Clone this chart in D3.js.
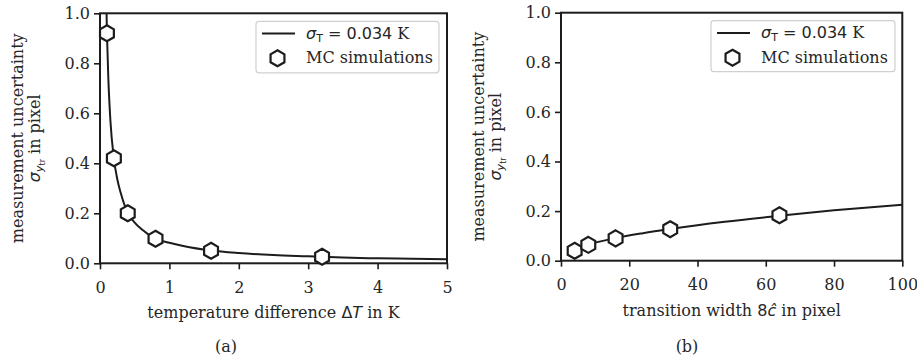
<!DOCTYPE html>
<html>
<head>
<meta charset="utf-8">
<script src="https://cdn.jsdelivr.net/npm/d3@7"></script>
<style>
  html, body { margin: 0; padding: 0; background: #fff; }
  svg { display: block; }
  text { fill: #262626; }
</style>
</head>
<body>
<svg id="chart" width="917" height="361"></svg>
<script>
// ---- data ----
const yTicks = [0.0, 0.2, 0.4, 0.6, 0.8, 1.0];
const yTickLabels = ["0.0", "0.2", "0.4", "0.6", "0.8", "1.0"];

// panel (a)
const aXTicks = [0, 1, 2, 3, 4, 5];
const aXTickLabels = ["0", "1", "2", "3", "4", "5"];
const aCurveX = [0.07, 0.1, 0.12, 0.15, 0.2, 0.25, 0.3, 0.4, 0.5, 0.6, 0.8, 1.0, 1.2, 1.6, 2.0, 2.5, 3.0, 3.2, 3.5, 4.0, 4.5, 5.0];
const aCurveY = [1.35, 0.92, 0.74, 0.57, 0.42, 0.335, 0.28, 0.202, 0.163, 0.136, 0.099, 0.082, 0.069, 0.051, 0.041, 0.033, 0.028, 0.026, 0.023, 0.020, 0.018, 0.016];
const aMcX = [0.1, 0.2, 0.4, 0.8, 1.6, 3.2];
const aMcY = [0.92, 0.42, 0.20, 0.098, 0.05, 0.026];

// panel (b)
const bXTicks = [0, 20, 40, 60, 80, 100];
const bXTickLabels = ["0", "20", "40", "60", "80", "100"];
const bCurveX = [4, 8, 16, 24, 32, 48, 64, 80, 100];
const bCurveY = [0.040, 0.064, 0.091, 0.111, 0.128, 0.157, 0.181, 0.203, 0.226];
const bMcX = [4, 8, 16, 32, 64];
const bMcY = [0.040, 0.064, 0.090, 0.127, 0.183];

const legendLineLabel = "= 0.034";
const legendMcLabel = "MC simulations";

// ---- drawing ----
const svg = d3.select("#chart");
const INK = "#1c1c1c";
const SERIF = "'DejaVu Serif', serif";
const SANS = "'DejaVu Sans', sans-serif";
const FS = 16;

function hexPath(r) {
  const pts = d3.range(6).map(k => {
    const a = (-90 + k * 60) * Math.PI / 180;
    return [r * Math.cos(a), r * Math.sin(a)];
  });
  return "M" + pts.map(p => p[0].toFixed(3) + "," + p[1].toFixed(3)).join("L") + "Z";
}
const HEX = hexPath(8);

function panel(cfg) {
  const g = svg.append("g");
  const x = d3.scaleLinear().domain(cfg.xDomain).range([cfg.left, cfg.right]);
  const y = d3.scaleLinear().domain([0, 1]).range([cfg.bottom, cfg.top]);

  const clipId = "clip" + cfg.id;
  svg.append("defs").append("clipPath").attr("id", clipId)
    .append("rect").attr("x", cfg.left).attr("y", cfg.top)
    .attr("width", cfg.right - cfg.left).attr("height", cfg.bottom - cfg.top);

  // axes
  const xAxis = d3.axisBottom(x).tickValues(cfg.xTicks)
    .tickFormat((d, i) => cfg.xTickLabels[i]).tickSize(6).tickSizeOuter(0).tickPadding(12);
  const yAxis = d3.axisLeft(y).tickValues(yTicks)
    .tickFormat((d, i) => yTickLabels[i]).tickSize(6).tickSizeOuter(0).tickPadding(4);

  const gx = g.append("g").attr("transform", `translate(0,${cfg.bottom})`).call(xAxis);
  const gy = g.append("g").attr("transform", `translate(${cfg.left},0)`).call(yAxis);
  [gx, gy].forEach(a => {
    a.select(".domain").remove();
    a.selectAll(".tick line").attr("stroke", INK).attr("stroke-width", 1.6);
    a.selectAll(".tick text").attr("font-family", SERIF).attr("font-size", FS).attr("fill", "#262626");
  });

  // curve
  const line = d3.line().x(d => x(d[0])).y(d => y(d[1])).curve(d3.curveMonotoneX);
  g.append("path")
    .datum(d3.zip(cfg.curveX, cfg.curveY))
    .attr("clip-path", `url(#${clipId})`)
    .attr("d", line)
    .attr("fill", "none").attr("stroke", INK).attr("stroke-width", 2);

  // frame
  g.append("rect")
    .attr("x", cfg.left).attr("y", cfg.top)
    .attr("width", cfg.right - cfg.left).attr("height", cfg.bottom - cfg.top)
    .attr("fill", "none").attr("stroke", INK).attr("stroke-width", 2);

  // markers
  g.selectAll(".mc").data(d3.zip(cfg.mcX, cfg.mcY)).join("path")
    .attr("class", "mc")
    .attr("transform", d => `translate(${x(d[0])},${y(d[1])})`)
    .attr("d", HEX)
    .attr("fill", "#fff").attr("stroke", INK).attr("stroke-width", 2.2)
    .attr("stroke-linejoin", "miter");

  // legend
  const L = cfg.legend;
  g.append("rect").attr("x", L.x).attr("y", L.y).attr("width", L.w).attr("height", L.h)
    .attr("rx", 3).attr("fill", "#fff").attr("fill-opacity", 0.85)
    .attr("stroke", "#d0d0d0").attr("stroke-width", 1.2);
  g.append("line").attr("x1", L.x + 6).attr("x2", L.x + 39)
    .attr("y1", L.y + 12.3).attr("y2", L.y + 12.3)
    .attr("stroke", INK).attr("stroke-width", 2);
  const t1 = g.append("text").attr("x", L.x + 50).attr("y", L.y + 17.5)
    .attr("font-family", SANS).attr("font-size", FS);
  t1.append("tspan").attr("font-style", "italic").text("σ");
  t1.append("tspan").attr("font-size", 11).attr("dy", 3).text("T");
  t1.append("tspan").attr("dy", -3).text(" " + legendLineLabel);
  t1.append("tspan").attr("font-family", SERIF).text(" K");
  g.append("path").attr("transform", `translate(${L.x + 21.5},${L.y + 37})`)
    .attr("d", HEX).attr("fill", "#fff").attr("stroke", INK).attr("stroke-width", 2.2);
  g.append("text").attr("x", L.x + 50).attr("y", L.y + 42)
    .attr("font-family", SERIF).attr("font-size", FS).text(legendMcLabel);

  // y label (two lines, rotated)
  const cy = (cfg.top + cfg.bottom) / 2;
  g.append("text")
    .attr("transform", `translate(${cfg.left - 77},${cy}) rotate(-90)`)
    .attr("text-anchor", "middle").attr("font-family", SERIF).attr("font-size", FS)
    .text("measurement uncertainty");
  const yl2 = g.append("text")
    .attr("transform", `translate(${cfg.left - 60},${cy}) rotate(-90)`)
    .attr("text-anchor", "middle").attr("font-family", SERIF).attr("font-size", FS);
  yl2.append("tspan").attr("font-family", SANS).attr("font-style", "italic").text("σ");
  yl2.append("tspan").attr("font-family", SANS).attr("font-style", "italic").attr("font-size", 11).attr("dy", 3).text("y");
  yl2.append("tspan").attr("font-family", SANS).attr("font-size", 8).attr("dy", 2).text("tr");
  yl2.append("tspan").attr("dy", -5).text(" in pixel");

  // x label
  const xl = g.append("text")
    .attr("x", (cfg.left + cfg.right) / 2).attr("y", cfg.bottom + 55)
    .attr("text-anchor", "middle").attr("font-family", SERIF).attr("font-size", FS);
  cfg.xLabel(xl);

  // caption
  g.append("text")
    .attr("x", cfg.captionX).attr("y", 352)
    .attr("text-anchor", "middle").attr("font-family", SERIF).attr("font-size", FS)
    .text(cfg.caption);
}

panel({
  id: "a", left: 100, right: 447, top: 13.3, bottom: 263.3,
  xDomain: [0, 5], xTicks: aXTicks, xTickLabels: aXTickLabels,
  curveX: aCurveX, curveY: aCurveY, mcX: aMcX, mcY: aMcY,
  legend: { x: 256, y: 21.3, w: 183, h: 51.5 },
  caption: "(a)", captionX: 226,
  xLabel: t => {
    t.append("tspan").text("temperature difference ");
    t.append("tspan").attr("font-family", SANS).text("Δ");
    t.append("tspan").attr("font-family", SANS).attr("font-style", "italic").text("T");
    t.append("tspan").text(" in K");
  }
});

panel({
  id: "b", left: 561, right: 902.3, top: 12.7, bottom: 260.7,
  xDomain: [0, 100], xTicks: bXTicks, xTickLabels: bXTickLabels,
  curveX: bCurveX, curveY: bCurveY, mcX: bMcX, mcY: bMcY,
  legend: { x: 711, y: 20.7, w: 184, h: 51 },
  caption: "(b)", captionX: 687,
  xLabel: t => {
    t.append("tspan").text("transition width ");
    t.append("tspan").attr("font-family", SANS).text("8");
    t.append("tspan").attr("font-family", SANS).attr("font-style", "italic").text("ĉ");
    t.append("tspan").text(" in pixel");
  }
});
</script>
</body>
</html>
